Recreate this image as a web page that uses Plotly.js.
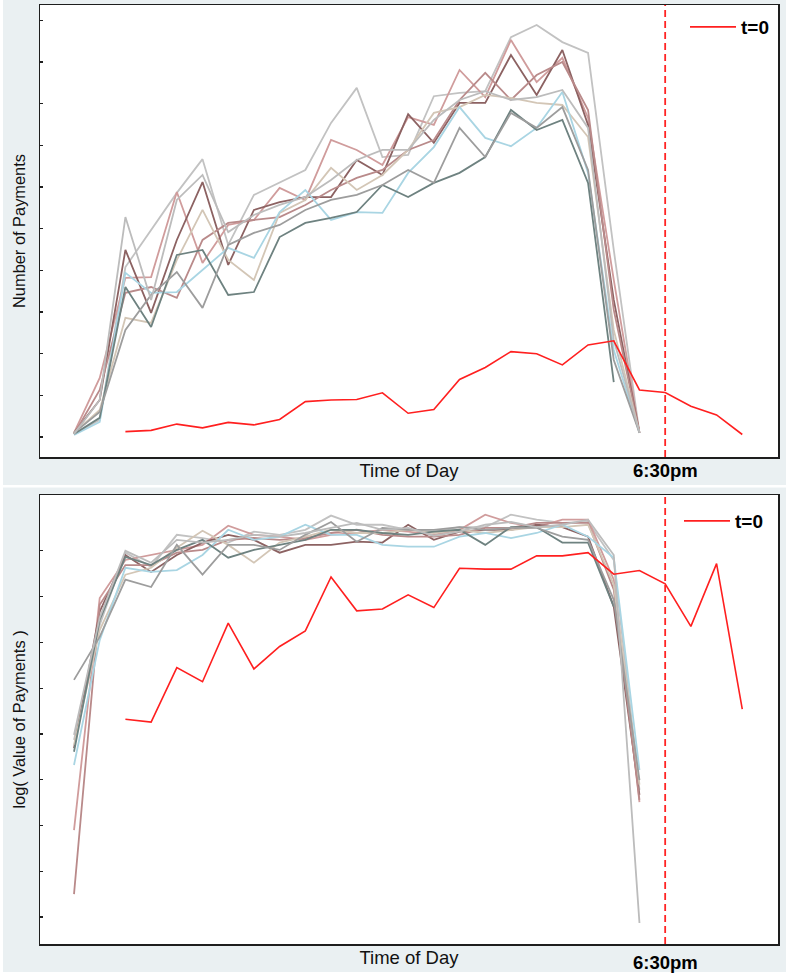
<!DOCTYPE html>
<html>
<head>
<meta charset="utf-8">
<script src="https://cdn.plot.ly/plotly-3.0.1.min.js"></script>
<style>
  html, body { margin: 0; padding: 0; background: #ffffff; }
  #chart { width: 786px; height: 973px; }
</style>
</head>
<body>
<div id="chart"></div>
<script>
// ---------------- DATA ----------------
// x = half-hour time slot index within the day (slot 23 = 6:30pm)
const slots = [0,1,2,3,4,5,6,7,8,9,10,11,12,13,14,15,16,17,18,19,20,21,22,23,24,25,26];
const cutoffSlot = 23;
const cutoffLabel = "6:30pm";
const eventLabel = "t=0";

// Comparison days (grey-ish lines), slots 0..22
const seriesNames  = ["day A","day B","day C","day D","day E","day F","day G","day H","day I"];
const seriesColors = ["#c2c2c2","#d09c9c","#8c6262","#b98a8a","#d3c6b6","#a9d5e3","#6e8280","#9d9d9d","#bcbcbc"];

// Number of payments
const cntA = [7,41,408,497,586,667,461,581,612,641,754,838,672,677,818,826,830,960,989,948,922,449,10];
const cntB = [10,142,382,384,588,418,509,521,598,569,713,689,653,768,749,881,816,953,852,910,766,377,10];
const cntC = [10,89,449,298,473,612,413,545,564,576,576,665,629,775,706,802,802,917,821,929,749,329,10];
const cntD = [7,113,346,360,334,473,514,521,528,557,593,622,641,689,713,809,874,809,869,900,785,305,10];
const cntE = [10,65,286,274,425,545,425,377,538,569,646,593,629,689,778,792,821,814,802,797,720,257,10];
const cntF = [5,36,394,346,348,401,454,430,540,593,521,540,538,634,696,792,718,698,742,828,634,209,10];
const cntG = [7,46,360,264,437,449,341,348,480,514,526,540,605,576,610,634,672,785,737,761,610,132,null];
const cntH = [10,60,257,341,396,310,461,490,509,545,569,581,605,641,610,742,672,778,742,792,641,185,10];
const cntI = [7,89,528,329,569,629,492,533,557,576,617,665,689,689,761,809,830,809,816,833,742,233,10];
const cntEvent = [null,null,13,16,31,22,35,29,42,85,89,90,106,57,66,138,167,205,200,173,221,231,113,107,74,53,6];

// log( Value of Payments )
const valA = [11.87,14.38,15.96,15.65,16.35,16.28,16.18,16.42,16.35,16.46,16.77,16.57,16.57,16.46,16.42,16.52,16.52,16.79,16.68,16.61,16.63,15.80,10.78];
const valB = [9.90,14.97,15.80,15.91,16.02,16.13,16.55,16.35,16.31,16.24,16.35,16.39,16.46,16.42,16.35,16.46,16.79,16.61,16.52,16.68,16.68,15.37,10.51];
const valC = [11.69,14.67,15.91,15.54,15.91,16.18,16.35,16.24,15.96,16.13,16.13,16.20,16.18,16.57,16.24,16.42,16.46,16.46,16.57,16.52,16.31,14.78,10.67];
const valD = [8.50,14.82,15.69,15.69,15.96,16.02,16.24,16.28,16.24,16.28,16.39,16.46,16.35,16.31,16.31,16.35,16.50,16.50,16.61,16.61,16.61,15.15,10.56];
const valE = [11.76,14.27,15.48,15.63,16.07,16.44,16.13,15.74,16.18,16.31,16.46,16.39,16.39,16.46,16.39,16.46,16.39,16.46,16.52,16.52,16.57,15.26,10.89];
const valF = [11.32,14.05,15.63,15.54,15.58,15.91,16.46,16.24,16.31,16.57,16.35,16.35,16.13,16.09,16.09,16.31,16.39,16.28,16.39,16.57,16.31,15.85,11.21];
const valG = [11.61,14.49,15.87,15.69,16.02,16.24,15.85,16.02,16.13,16.24,16.46,16.46,16.39,16.35,16.42,16.46,16.13,16.52,16.52,16.18,16.18,14.78,null];
const valH = [13.18,14.12,15.37,15.21,16.13,15.48,16.13,16.13,16.02,16.35,16.63,16.20,16.50,16.46,16.46,16.52,16.46,16.50,16.50,16.31,16.24,14.93,10.99];
const valI = [11.98,14.54,16.00,15.74,16.24,16.18,16.24,16.35,16.31,16.39,16.50,16.61,16.46,16.50,16.33,16.42,16.57,16.63,16.52,16.57,16.68,15.91,7.87];
const valEvent = [null,null,12.32,12.26,13.45,13.14,14.42,13.42,13.91,14.25,15.43,14.69,14.73,15.04,14.76,15.62,15.60,15.60,15.89,15.89,15.96,15.49,15.57,15.28,14.35,15.72,12.54];

const countTicks = [0,100,200,300,400,500,600,700,800,900,1000];
const valueTicks = [8,9,10,11,12,13,14,15,16];
const slotTicks  = [1,6,11,16,21,26];

// ---------------- STYLE / LAYOUT ----------------
const FONT = '"Liberation Sans", Arial, Helvetica, sans-serif';
const BG = '#eaf0f2';
const W = 786, H = 973;
const ML = 40, MR = 8, MT = 5, MB = 29;
const plotH = H - MT - MB, plotW = W - ML - MR;
const pyFrac = p => (H - MB - p) / plotH;     // pixel row -> paper y
const pxFrac = p => (p - ML) / plotW;          // pixel col -> paper x

const countSeries = [cntA,cntB,cntC,cntD,cntE,cntF,cntG,cntH,cntI];
const valueSeries = [valA,valB,valC,valD,valE,valF,valG,valH,valI];

const traces = [];
countSeries.forEach((ys, k) => traces.push({
  x: slots.slice(0, ys.length), y: ys, type: 'scatter', mode: 'lines',
  name: seriesNames[k], showlegend: false, hoverinfo: 'skip',
  line: {color: seriesColors[k], width: 1.8}, xaxis: 'x', yaxis: 'y'
}));
traces.push({
  x: slots, y: cntEvent, type: 'scatter', mode: 'lines', name: eventLabel,
  line: {color: '#ff1f1f', width: 1.6}, xaxis: 'x', yaxis: 'y', legend: 'legend'
});
valueSeries.forEach((ys, k) => traces.push({
  x: slots.slice(0, ys.length), y: ys, type: 'scatter', mode: 'lines',
  name: seriesNames[k], showlegend: false, hoverinfo: 'skip',
  line: {color: seriesColors[k], width: 1.8}, xaxis: 'x2', yaxis: 'y2'
}));
traces.push({
  x: slots, y: valEvent, type: 'scatter', mode: 'lines', name: eventLabel,
  line: {color: '#ff1f1f', width: 1.6}, xaxis: 'x2', yaxis: 'y2', legend: 'legend2'
});

const xRange = [-1.323, 27.39];
const topDom = [pyFrac(457), 1];
const botDom = [0, pyFrac(495)];

function xAxis(anchor, title) {
  return {
    domain: [0, 1], anchor: anchor, range: xRange,
    showline: true, linecolor: '#1e1e1e', linewidth: 1.5, mirror: 'ticks',
    ticks: 'inside', tickcolor: '#ffffff', ticklen: 4, tickwidth: 1.5,
    tickvals: slotTicks, showticklabels: false, showgrid: false, zeroline: false,
    title: {text: title, font: {family: FONT, size: 18.5, color: '#111111'}, standoff: 6}
  };
}
function yAxis(anchor, dom, range, tv, title) {
  return {
    domain: dom, anchor: anchor, range: range,
    showline: true, linecolor: '#1e1e1e', linewidth: 1.5, mirror: true,
    ticks: 'inside', tickcolor: '#1e1e1e', ticklen: 3, tickwidth: 1.2,
    tickvals: tv, showticklabels: false, showgrid: false, zeroline: false,
    title: {text: title, font: {family: FONT, size: 16.4, color: '#111111'}, standoff: 9}
  };
}
function yMirror(over, anchor, dom, range, tv) {
  return {
    overlaying: over, side: 'right', anchor: anchor, domain: dom, range: range,
    showline: false, ticks: 'inside', tickcolor: '#ffffff', ticklen: 3, tickwidth: 1.2,
    tickvals: tv, showticklabels: false, showgrid: false, zeroline: false
  };
}
const cntRange = [-48, 1037];
const valRange = [7.41, 17.22];

const dashLine = (xr, yr) => ({
  type: 'line', xref: xr, yref: yr + ' domain', x0: cutoffSlot, x1: cutoffSlot, y0: 0, y1: 1,
  line: {color: '#ff2424', width: 1.8, dash: '7px,4px'}
});
const whiteStrip = (x0, x1, y0, y1) => ({
  type: 'rect', xref: 'paper', yref: 'paper', layer: 'below',
  x0: pxFrac(x0), x1: pxFrac(x1), y0: pyFrac(y1), y1: pyFrac(y0),
  fillcolor: '#ffffff', line: {width: 0}
});

const legendStyle = (xp, yp) => ({
  x: pxFrac(xp), y: pyFrac(yp), xanchor: 'left', yanchor: 'middle',
  bgcolor: 'rgba(0,0,0,0)', borderwidth: 0, itemwidth: 46,
  font: {family: FONT, size: 19, color: '#000000', weight: 'bold'}
});

const layout = {
  width: W, height: H,
  margin: {l: ML, r: MR, t: MT, b: MB, pad: 0},
  paper_bgcolor: BG, plot_bgcolor: '#ffffff',
  font: {family: FONT, color: '#111111'},
  xaxis: xAxis('y', 'Time of Day'),
  yaxis: yAxis('x', topDom, cntRange, countTicks, 'Number of Payments'),
  xaxis2: xAxis('y2', 'Time of Day'),
  yaxis2: yAxis('x2', botDom, valRange, valueTicks, 'log( Value of Payments )'),
  yaxis3: yMirror('y', 'x', topDom, cntRange, countTicks),
  yaxis4: yMirror('y2', 'x2', botDom, valRange, valueTicks),
  legend: legendStyle(685, 27),
  legend2: legendStyle(679, 521),
  shapes: [
    dashLine('x', 'y'), dashLine('x2', 'y2'),
    whiteStrip(0, 3, 0, 973), whiteStrip(0, 786, 485, 487.5), whiteStrip(0, 786, 972, 973)
  ],
  annotations: [
    {xref: 'x', yref: 'paper', x: cutoffSlot, y: pyFrac(470), text: '<b>' + cutoffLabel + '</b>',
     showarrow: false, xanchor: 'center', yanchor: 'middle', font: {family: FONT, size: 18.5, color: '#000000'}},
    {xref: 'x2', yref: 'paper', x: cutoffSlot, y: pyFrac(962), text: '<b>' + cutoffLabel + '</b>',
     showarrow: false, xanchor: 'center', yanchor: 'middle', font: {family: FONT, size: 18.5, color: '#000000'}}
  ]
};

Plotly.newPlot('chart', traces, layout, {staticPlot: true, displayModeBar: false});
</script>
</body>
</html>
